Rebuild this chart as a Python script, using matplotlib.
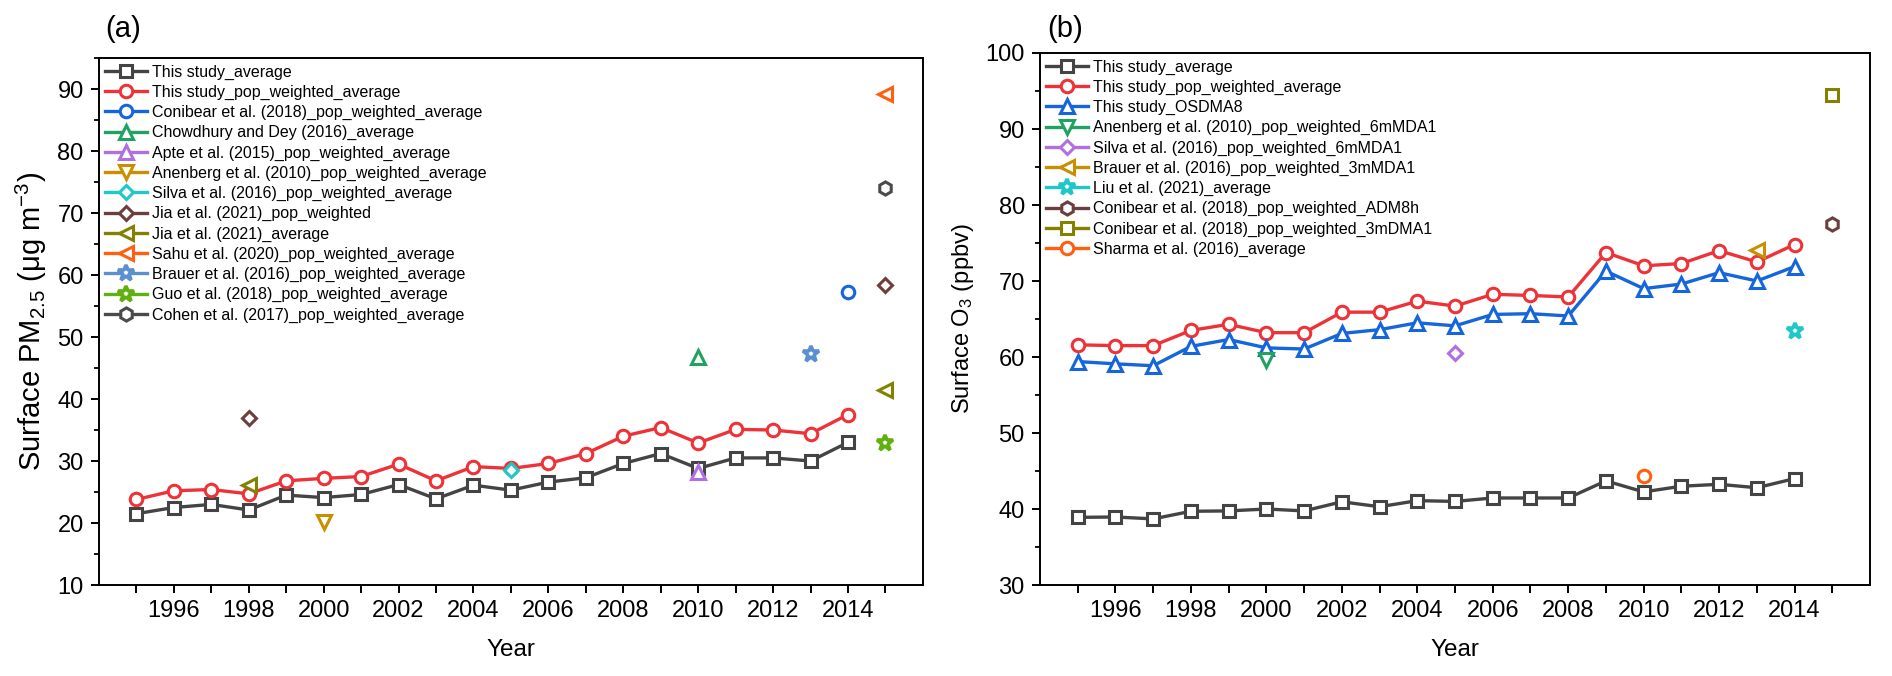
import matplotlib
matplotlib.use("Agg")
import matplotlib.pyplot as plt
from matplotlib.lines import Line2D
from matplotlib.ticker import MultipleLocator

# ── Fonts ─────────────────────────────────────────────────────────────────────
plt.rcParams["font.family"] = ["Liberation Sans", "DejaVu Sans"]
plt.rcParams["mathtext.fontset"] = "custom"
plt.rcParams["mathtext.rm"] = "Liberation Sans"
plt.rcParams["mathtext.it"] = "Liberation Sans:italic"
plt.rcParams["mathtext.default"] = "regular"

# ── Data ──────────────────────────────────────────────────────────────────────
years = [1995, 1996, 1997, 1998, 1999, 2000, 2001, 2002, 2003, 2004,
         2005, 2006, 2007, 2008, 2009, 2010, 2011, 2012, 2013, 2014]

pm_avg = [21.5, 22.5, 23.0, 22.1, 24.5, 24.1, 24.6, 26.2, 23.9, 26.1,
          25.3, 26.6, 27.3, 29.6, 31.2, 28.8, 30.5, 30.5, 30.0, 33.0]
pm_pw = [23.8, 25.2, 25.4, 24.7, 26.8, 27.2, 27.5, 29.5, 26.8, 29.1,
         28.8, 29.6, 31.2, 34.0, 35.4, 32.9, 35.1, 35.0, 34.4, 37.5]

pm_ref_labels = [
    "Conibear et al. (2018)_pop_weighted_average",
    "Chowdhury and Dey (2016)_average",
    "Apte et al. (2015)_pop_weighted_average",
    "Anenberg et al. (2010)_pop_weighted_average",
    "Silva et al. (2016)_pop_weighted_average",
    "Jia et al. (2021)_pop_weighted",
    "Jia et al. (2021)_average",
    "Sahu et al. (2020)_pop_weighted_average",
    "Brauer et al. (2016)_pop_weighted_average",
    "Guo et al. (2018)_pop_weighted_average",
    "Cohen et al. (2017)_pop_weighted_average",
]
pm_ref_years = [[2014], [2010], [2010], [2000], [2005], [1998, 2015],
                [1998, 2015], [2015], [2013], [2015], [2015]]
pm_ref_values = [[57.3], [46.8], [28.3], [20.2], [28.6], [37.0, 58.4],
                 [26.1, 41.5], [89.2], [47.2], [32.9], [74.1]]

o3_avg = [38.9, 38.95, 38.7, 39.7, 39.75, 40.0, 39.75, 40.95, 40.3, 41.1,
          41.0, 41.45, 41.45, 41.45, 43.7, 42.25, 43.0, 43.25, 42.8, 44.0]
o3_pw = [61.6, 61.5, 61.5, 63.5, 64.3, 63.2, 63.2, 65.9, 65.9, 67.35,
         66.7, 68.25, 68.1, 67.9, 73.75, 72.0, 72.3, 74.0, 72.5, 74.8]
o3_osdma8 = [59.4, 59.1, 58.85, 61.4, 62.3, 61.2, 61.05, 63.1, 63.6, 64.5,
             64.1, 65.6, 65.7, 65.4, 71.3, 69.0, 69.6, 71.1, 70.0, 71.9]

o3_ref_labels = [
    "Anenberg et al. (2010)_pop_weighted_6mMDA1",
    "Silva et al. (2016)_pop_weighted_6mMDA1",
    "Brauer et al. (2016)_pop_weighted_3mMDA1",
    "Liu et al. (2021)_average",
    "Conibear et al. (2018)_pop_weighted_ADM8h",
    "Conibear et al. (2018)_pop_weighted_3mDMA1",
    "Sharma et al. (2016)_average",
]
o3_ref_years = [[2000], [2005], [2013], [2014], [2015], [2015], [2010]]
o3_ref_values = [[59.6], [60.5], [74.1], [63.4], [77.5], [94.5], [44.3]]

# ── Styles ────────────────────────────────────────────────────────────────────
GRAY, RED, BLUE = "#444444", "#EE3338", "#1565DC"
pm_ref_styles = [
    ("o", "#1565DC"), ("^", "#22A262"), ("^", "#B070E0"), ("v", "#C89000"),
    ("D", "#1EC8C8"), ("D", "#6E3E3E"), ("<", "#828200"), ("<", "#FF6010"),
    ("*", "#5B8FD0"), ("*", "#62B010"), ("h", "#4A4A4A"),
]
o3_ref_styles = [
    ("v", "#22A262"), ("D", "#B070E0"), ("<", "#C89000"), ("*", "#1EC8C8"),
    ("h", "#6E3E3E"), ("s", "#828200"), ("o", "#FF6010"),
]
MS = {"o": 9, "s": 8, "^": 10, "v": 10, "<": 10, "D": 7.5, "*": 12, "h": 9.5}
LW, MEW = 2.4, 2.2
TICK_FS, LEG_FS = 17, 11.5


def series(ax, x, y, marker, color):
    ax.plot(x, y, color=color, lw=LW, marker=marker, ms=MS[marker],
            mfc="white", mec=color, mew=MEW, zorder=3)
    return Line2D([], [], color=color, lw=LW, marker=marker, ms=MS[marker],
                  mfc="white", mec=color, mew=MEW)


def refs(ax, xs, ys, styles):
    handles = []
    for x, y, (m, c) in zip(xs, ys, styles):
        ew = MEW + 0.4 if m == "*" else MEW
        ax.plot(x, y, ls="none", marker=m, ms=MS[m], mfc="white", mec=c,
                mew=ew, zorder=4)
        handles.append(Line2D([], [], color=c, lw=LW, marker=m, ms=MS[m],
                              mfc="white", mec=c, mew=ew))
    return handles


def style_axes(ax, ylo, yhi):
    ax.set_xlim(1994, 2016)
    ax.set_ylim(ylo, yhi)
    ax.set_xticks(range(1995, 2016))
    ax.set_xticklabels([str(y) if y % 2 == 0 and y < 2015 else ""
                        for y in range(1995, 2016)])
    ax.yaxis.set_major_locator(MultipleLocator(10))
    ax.yaxis.set_minor_locator(MultipleLocator(5))
    ax.tick_params(axis="both", which="major", direction="out", length=6,
                   width=1.4, labelsize=TICK_FS, pad=5)
    ax.tick_params(axis="y", which="minor", direction="out", length=3.5,
                   width=1.3)
    for s in ax.spines.values():
        s.set_linewidth(1.4)
    ax.set_xlabel("Year", fontsize=17.5, labelpad=12)


def add_legend(ax, handles, labels):
    ax.legend(handles, labels, loc="upper left", bbox_to_anchor=(0.0, 1.0),
              frameon=False, fontsize=LEG_FS, handlelength=2.6,
              handletextpad=0.3, labelspacing=0.32, borderaxespad=0.2,
              borderpad=0.2)


fig = plt.figure(figsize=(18.92, 6.76), dpi=100)

# ── Panel (a): PM2.5 ──────────────────────────────────────────────────────────
ax1 = fig.add_axes([0.0523, 0.1346, 0.4355, 0.7796])
h1 = [series(ax1, years, pm_avg, "s", GRAY),
      series(ax1, years, pm_pw, "o", RED)]
h1 += refs(ax1, pm_ref_years, pm_ref_values, pm_ref_styles)
style_axes(ax1, 10, 95)
ax1.set_yticks(range(10, 100, 10))
ax1.set_ylabel("Surface PM$_{2.5}$ (μg m$^{-3}$)", fontsize=21, labelpad=6)
add_legend(ax1, h1, ["This study_average", "This study_pop_weighted_average"]
           + pm_ref_labels)

# ── Panel (b): O3 ─────────────────────────────────────────────────────────────
ax2 = fig.add_axes([0.5497, 0.1346, 0.4387, 0.787])
h2 = [series(ax2, years, o3_avg, "s", GRAY),
      series(ax2, years, o3_pw, "o", RED),
      series(ax2, years, o3_osdma8, "^", BLUE)]
h2 += refs(ax2, o3_ref_years, o3_ref_values, o3_ref_styles)
style_axes(ax2, 30, 100)
ax2.set_ylabel("Surface O$_3$ (ppbv)", fontsize=17, labelpad=7)
add_legend(ax2, h2, ["This study_average", "This study_pop_weighted_average",
                     "This study_OSDMA8"] + o3_ref_labels)

# ── Panel letters ─────────────────────────────────────────────────────────────
fig.text(0.0555, 0.936, "(a)", fontsize=21, va="bottom", ha="left")
fig.text(0.5534, 0.936, "(b)", fontsize=21, va="bottom", ha="left")

fig.savefig("out.png", dpi=100, facecolor="white")
